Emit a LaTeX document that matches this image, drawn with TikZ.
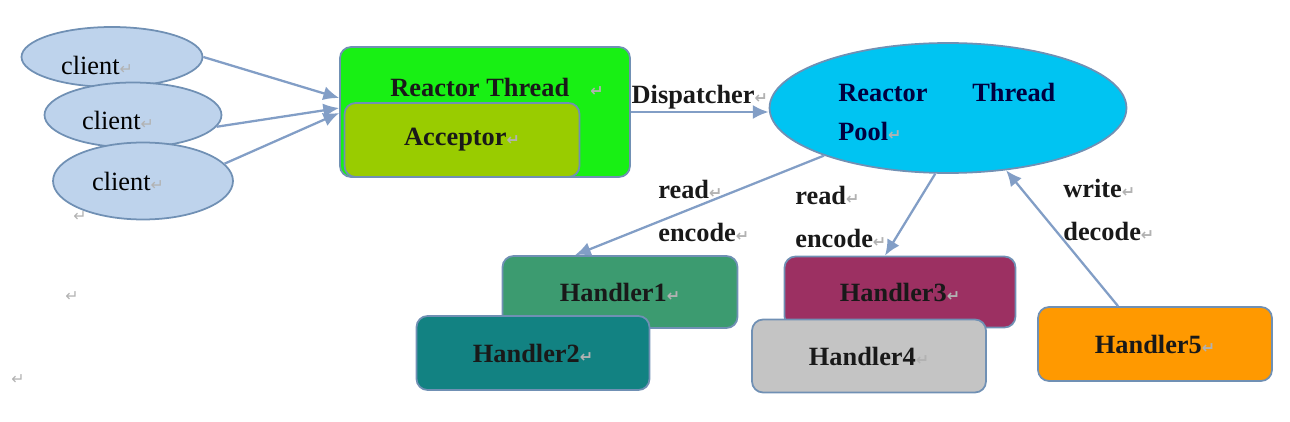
\documentclass[tikz,border=0pt]{standalone}
\usepackage{fontspec}
\setmainfont{Liberation Serif}
\newfontfamily\retfont{DejaVu Sans}
\usetikzlibrary{shapes.geometric,arrows.meta}

\definecolor{clientblue}{RGB}{190,211,236}
\definecolor{edgeblue}{RGB}{112,144,180}
\definecolor{arrowblue}{RGB}{130,158,198}
\definecolor{threadgreen}{RGB}{24,240,20}
\definecolor{acceptorgreen}{RGB}{153,204,0}
\definecolor{poolcyan}{RGB}{0,196,242}
\definecolor{hone}{RGB}{60,155,112}
\definecolor{htwo}{RGB}{18,130,130}
\definecolor{hthree}{RGB}{156,48,98}
\definecolor{hfour}{RGB}{196,196,196}
\definecolor{hfive}{RGB}{255,153,0}

\newcommand{\ret}{{\retfont\fontsize{9}{9}\selectfont\textcolor{gray!60}{↵}}}

\tikzset{
  client/.style={ellipse,draw=edgeblue,line width=1pt,fill=clientblue,inner sep=0pt},
  box/.style={rectangle,rounded corners=0.22cm,draw=edgeblue,line width=1pt,inner sep=0pt,
    font=\bfseries\fontsize{15}{18}\selectfont,text=black!90},
  txt/.style={font=\bfseries\fontsize{15}{18}\selectfont,inner sep=0pt,text=black!90},
  flow/.style={draw=arrowblue,line width=1.3pt,-{Latex[length=9pt,width=8pt]}},
}

\begin{document}
\begin{tikzpicture}[x=0.02cm,y=-0.02cm]
\useasboundingbox (0,0) rectangle (1290,422);
% clients
\node[client,minimum width=3.62cm,minimum height=1.2cm] (cl1) at (112,57) {};
\node[font=\fontsize{15}{18}\selectfont,inner sep=0pt] (cl1t) at (97,65) {client\ret};
\node[client,minimum width=3.54cm,minimum height=1.3cm] (cl2) at (133,115) {};
\node[font=\fontsize{15}{18}\selectfont,inner sep=0pt] (cl2t) at (118,120) {client\ret};
\node[client,minimum width=3.6cm,minimum height=1.54cm] (cl3) at (143,181) {};
\node[font=\fontsize{15}{18}\selectfont,inner sep=0pt] (cl3t) at (128,181) {client\ret};
% reactor thread
\node[box,fill=threadgreen,minimum width=5.8cm,minimum height=2.6cm] (rt) at (485,112) {};
\node[txt] (rtt) at (497,87) {Reactor Thread\hspace{12pt}\ret};
\node[box,fill=acceptorgreen,minimum width=4.7cm,minimum height=1.48cm] (acc) at (462,140) {Acceptor\ret};
% pool
\node[ellipse,draw=edgeblue,line width=1pt,fill=poolcyan,inner sep=0pt,
  minimum width=7.14cm,minimum height=2.6cm] (pool) at (948,108) {};
\node[txt,align=left,anchor=west,font=\bfseries\fontsize{15}{22}\selectfont,text=black!75!blue] (poolt) at (838,112)
  {\makebox[4.34cm][s]{Reactor\hfill Thread}\\Pool\ret};
% handlers
\node[box,fill=hone,minimum width=4.7cm,minimum height=1.44cm] (h1) at (620,292) {Handler1\ret};
\node[box,fill=htwo,minimum width=4.66cm,minimum height=1.48cm] (h2) at (533,353) {Handler2\ret};
\node[box,fill=hthree,minimum width=4.62cm,minimum height=1.42cm] (h3) at (900,292) {Handler3\ret};
\node[box,fill=hfour,minimum width=4.68cm,minimum height=1.46cm] (h4) at (869,356) {Handler4\ret};
\node[box,fill=hfive,minimum width=4.68cm,minimum height=1.48cm] (h5) at (1155,344) {Handler5\ret};
% arrows
\draw[flow] (cl1.east) -- ([yshift=0.28cm]rt.west);
\draw[flow] (cl2.-8) -- ([yshift=0.08cm]rt.west);
\draw[flow] (cl3.12) -- ([yshift=-0.02cm]rt.west);
\draw[flow] (rt.east) -- node[txt,above=1pt] (dsp) {Dispatcher\ret} (rt.east -| pool.west);
\draw[flow] (pool.201) -- ([xshift=-0.9cm]h1.north);
\draw[flow] (pool.259) -- ([xshift=-0.3cm]h3.north);
\draw[flow] ([xshift=-0.74cm]h5.north) -- (pool.313);
% labels
\node[txt,align=left,anchor=west,font=\bfseries\fontsize{15}{24}\selectfont] (rw1) at (658,211) {read\ret\\encode\ret};
\node[txt,align=left,anchor=west,font=\bfseries\fontsize{15}{24}\selectfont] (rw2) at (795,217) {read\ret\\encode\ret};
\node[txt,align=left,anchor=west,font=\bfseries\fontsize{15}{24}\selectfont] (wd) at (1063,210) {write\ret\\decode\ret};
% stray marks
\node (m1) at (80,217) {\ret};
\node (m2) at (72,297) {\ret};
\node (m3) at (18,380) {\ret};
\end{tikzpicture}
\end{document}
